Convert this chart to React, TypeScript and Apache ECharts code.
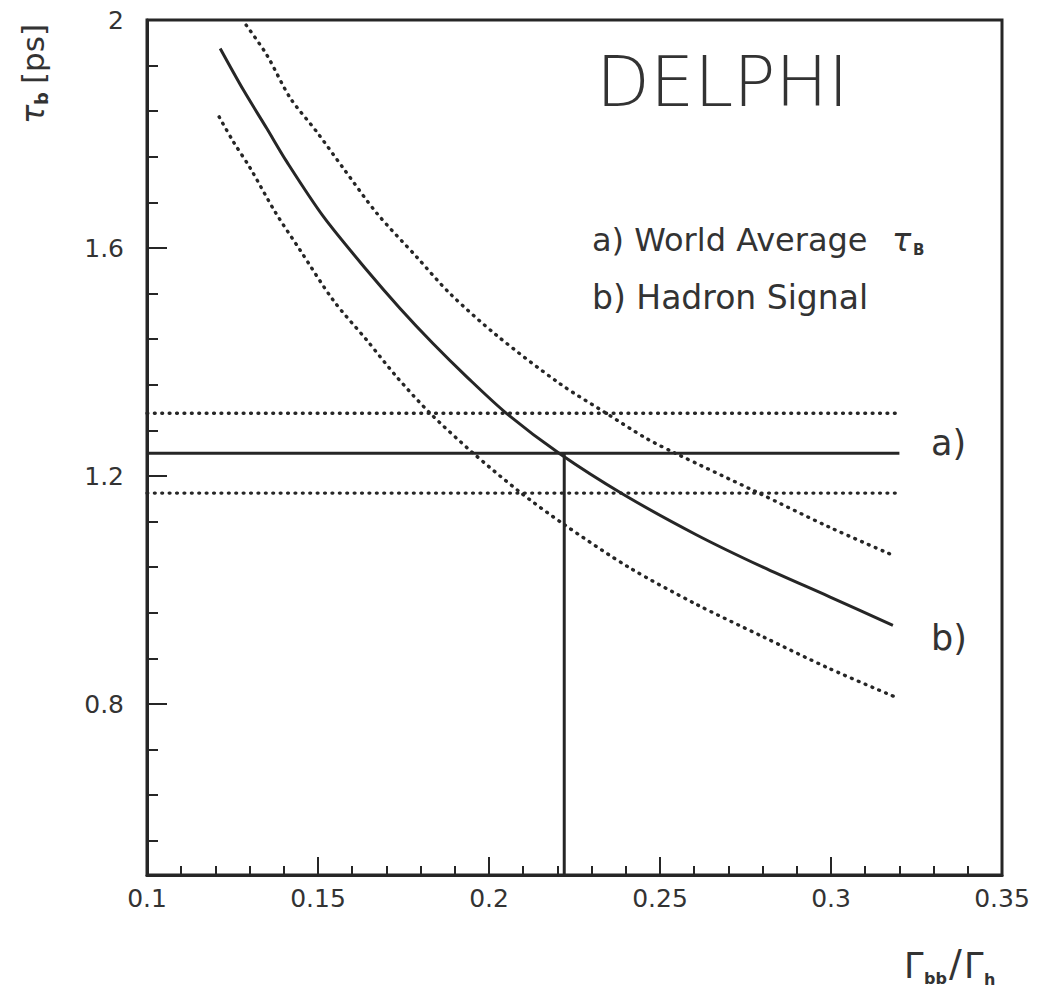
import React, { useEffect, useRef } from "react";
import * as echarts from "echarts";

// Hadron signal curve b) (central) and its error band
const centralX = [0.1214, 0.1282, 0.135, 0.1409, 0.1516, 0.1643, 0.174, 0.1837, 0.1935, 0.2051, 0.2207, 0.2392, 0.2606, 0.2801, 0.2996, 0.3181];
const centralY = [1.95, 1.877, 1.81, 1.751, 1.655, 1.561, 1.494, 1.432, 1.374, 1.31, 1.239, 1.168, 1.097, 1.04, 0.988, 0.938];
const upperX = [0.129, 0.135, 0.1419, 0.1496, 0.1574, 0.1672, 0.1789, 0.1886, 0.2022, 0.2207, 0.2343, 0.246, 0.2548, 0.2782, 0.2996, 0.3181];
const upperY = [1.991, 1.939, 1.863, 1.804, 1.74, 1.661, 1.584, 1.52, 1.447, 1.362, 1.31, 1.266, 1.239, 1.172, 1.11, 1.061];
const lowerX = [0.1211, 0.1253, 0.1302, 0.1375, 0.1448, 0.1545, 0.1643, 0.173, 0.1828, 0.1954, 0.209, 0.2217, 0.2411, 0.2606, 0.2801, 0.2996, 0.3185];
const lowerY = [1.83, 1.786, 1.74, 1.663, 1.596, 1.508, 1.438, 1.374, 1.31, 1.24, 1.172, 1.116, 1.039, 0.975, 0.918, 0.862, 0.813];

// World average tau_B a) and its band
const worldAvg = 1.24;
const worldAvgHigh = 1.31;
const worldAvgLow = 1.17;
const bandXRange = [0.1, 0.32];
const crossingX = 0.222;

// axis ticks
const yLabelValues = [0.8, 1.2, 1.6, 2];
const yMinorTicks = [0.56, 0.64, 0.72, 0.88, 0.96, 1.04, 1.12, 1.28, 1.36, 1.44, 1.52, 1.68, 1.76, 1.84, 1.92];

const zip = (xs: number[], ys: number[]) => xs.map((x, i) => [x, ys[i]]);

const INK = "#262626";
const TXT = "#333333";
const FONT = "'DejaVu Sans', 'Liberation Sans', sans-serif";

export default function App() {
  const ref = useRef<HTMLDivElement>(null);
  useEffect(() => {
    if (!ref.current) return;
    const chart = echarts.init(ref.current, undefined, { renderer: "svg" });
    const solid = { color: INK, width: 3 };
    const dotted = { color: INK, width: 3.4, type: [0.8, 6.6] as any, cap: "round" as any };
    const lineSeries = (data: number[][], ls: any, smooth = true) => ({
      type: "line",
      data,
      showSymbol: false,
      symbol: "none",
      smooth: smooth ? 0.3 : false,
      lineStyle: ls,
      silent: true,
      z: 3,
    });
    const txt = (text: string, x: number, y: number, font: string) => ({
      type: "text",
      x,
      y,
      style: { text, font, fill: TXT, align: "left", verticalAlign: "middle" },
    });
    chart.setOption({
      animation: false,
      backgroundColor: "#ffffff",
      grid: {
        left: 147,
        top: 20,
        right: 35,
        bottom: 121,
        show: true,
        borderColor: INK,
        borderWidth: 3,
        backgroundColor: "transparent",
      },
      xAxis: {
        type: "value",
        min: 0.1,
        max: 0.35,
        interval: 0.05,
        axisLine: { show: true, lineStyle: { color: INK, width: 3 } },
        axisTick: { show: true, inside: true, length: 18, lineStyle: { color: INK, width: 2 } },
        minorTick: { show: true, splitNumber: 5, length: 9, lineStyle: { color: INK, width: 2 } },
        splitLine: { show: false },
        axisLabel: { color: TXT, fontSize: 25, fontFamily: FONT, margin: 11 },
      },
      yAxis: [
        {
          type: "value",
          min: 0.5,
          max: 2,
          axisLine: { show: true, lineStyle: { color: INK, width: 3 } },
          axisTick: { show: true, inside: true, length: 20, customValues: yLabelValues, lineStyle: { color: INK, width: 2 } },
          splitLine: { show: false },
          axisLabel: {
            color: TXT,
            fontSize: 25,
            fontFamily: FONT,
            margin: 23,
            customValues: yLabelValues,
            formatter: (v: number) => String(Math.round(v * 10) / 10),
          },
        },
        {
          type: "value",
          min: 0.5,
          max: 2,
          position: "left",
          axisLine: { show: false },
          axisTick: { show: true, inside: true, length: 11, customValues: yMinorTicks, lineStyle: { color: INK, width: 2 } },
          axisLabel: { show: false },
          splitLine: { show: false },
        },
      ],
      series: [
        lineSeries(zip(centralX, centralY), solid),
        lineSeries(zip(upperX, upperY), dotted),
        lineSeries(zip(lowerX, lowerY), dotted),
        lineSeries(bandXRange.map((x) => [x, worldAvg]), solid, false),
        lineSeries(bandXRange.map((x) => [x, worldAvgHigh]), dotted, false),
        lineSeries(bandXRange.map((x) => [x, worldAvgLow]), dotted, false),
        lineSeries([[crossingX, 0.5], [crossingX, worldAvg]], solid, false),
      ],
      graphic: [
        txt("DELPHI", 596, 82, `200 70px ${FONT}`),
        txt("a) World Average", 592, 240, `32px ${FONT}`),
        txt("τ", 892, 240, `italic 32px ${FONT}`),
        txt("B", 913, 250, `bold 15px ${FONT}`),
        txt("b) Hadron Signal", 592, 297, `33px ${FONT}`),
        txt("a)", 931, 443, `35px ${FONT}`),
        txt("b)", 931, 638, `35px ${FONT}`),
        // y axis title, rotated
        {
          type: "group",
          x: 33,
          y: 72,
          rotation: Math.PI / 2,
          children: [
            txt("τ", -52, 0, `italic 32px ${FONT}`),
            txt("b", -33, 8, `bold 18px ${FONT}`),
            txt("[ps]", -12, 0, `31px ${FONT}`),
          ],
        },
        // x axis title
        txt("Γ", 904, 966, `35px ${FONT}`),
        txt("bb", 924, 978, `bold 16px ${FONT}`),
        txt("/", 949, 963, `38px ${FONT}`),
        txt("Γ", 964, 966, `35px ${FONT}`),
        txt("h", 984, 979, `bold 16px ${FONT}`),
      ],
    });
    return () => chart.dispose();
  }, []);
  return (
    <div
      ref={ref}
      style={{ position: "fixed", left: 0, top: 0, width: 1037, height: 996, background: "#fff" }}
    />
  );
}
